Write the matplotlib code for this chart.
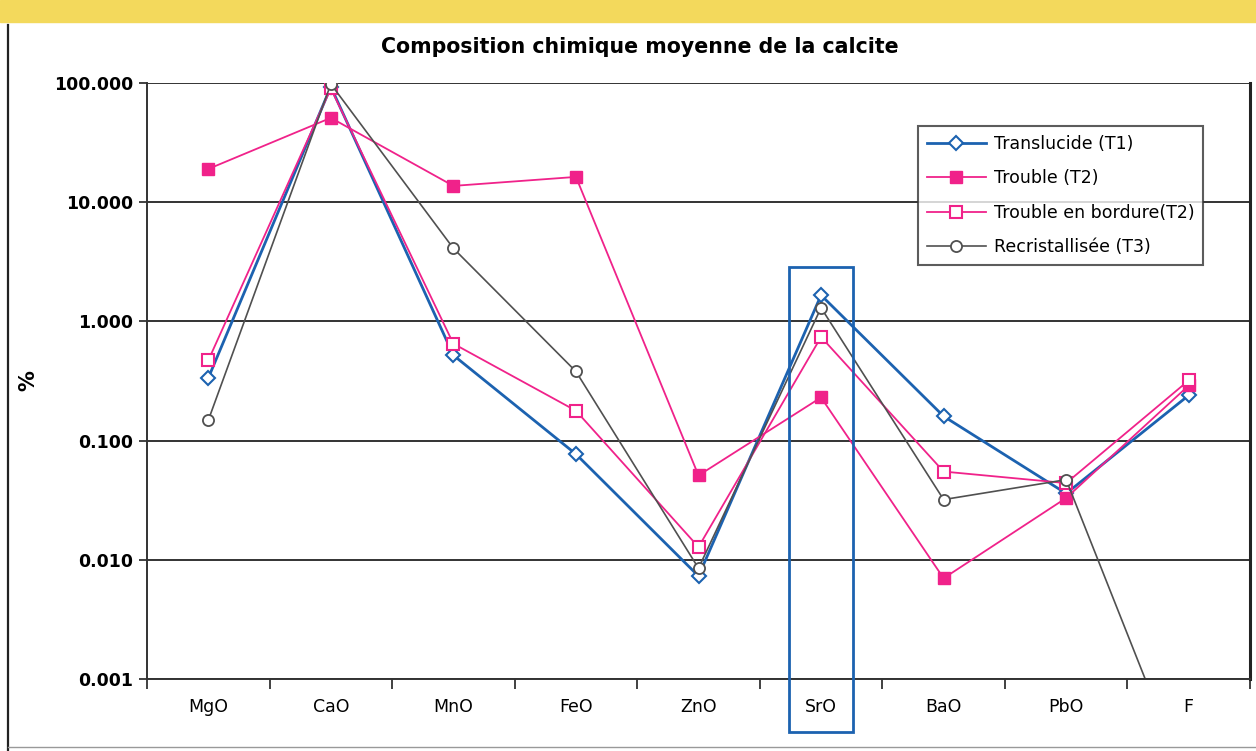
import matplotlib
matplotlib.use("Agg")
import matplotlib.pyplot as plt
from matplotlib.patches import Rectangle
from matplotlib.lines import Line2D
import numpy as np

categories = ["MgO", "CaO", "MnO", "FeO", "ZnO", "SrO", "BaO", "PbO", "F"]
translucide_t1 = [0.335, 93.0, 0.52, 0.077, 0.0073, 1.66, 0.16, 0.036, 0.24]
trouble_t2 = [19.0, 51.0, 13.7, 16.3, 0.051, 0.23, 0.0070, 0.033, 0.29]
bordure_t2 = [0.47, 90.0, 0.65, 0.178, 0.0128, 0.74, 0.055, 0.044, 0.32]
recrist_t3 = [0.148, 98.0, 4.1, 0.38, 0.0085, 1.3, 0.032, 0.047, 0.00012]
ytick_vals = [0.001, 0.01, 0.1, 1, 10, 100]
ytick_labels = ["0.001", "0.010", "0.100", "1.000", "10.000", "100.000"]

plt.rcParams['font.family'] = ['DejaVu Sans']

fig = plt.figure(figsize=(12.56, 7.51), dpi=100)
fig.patch.set_facecolor("white")
ax = fig.add_axes([147/1256, 1-679/751, (1250-147)/1256, (679-83)/751])

x = np.arange(len(categories))
BLUE = "#1c62b0"
PINK = "#f0228a"
GREY = "#505050"

ax.plot(x, translucide_t1, color=BLUE, lw=2.0, marker="D", ms=7, mfc="white",
        mec=BLUE, mew=1.5, label="Translucide (T1)")
ax.plot(x, trouble_t2, color=PINK, lw=1.3, marker="s", ms=9, mfc=PINK,
        mec=PINK, label="Trouble (T2)")
ax.plot(x, bordure_t2, color=PINK, lw=1.3, marker="s", ms=9, mfc="white",
        mec=PINK, mew=1.5, label="Trouble en bordure(T2)")
ax.plot(x, recrist_t3, color=GREY, lw=1.2, marker="o", ms=8, mfc="white",
        mec=GREY, mew=1.3, label="Recristallisée (T3)")

ax.set_yscale("log")
ax.set_ylim(0.001, 100)
ax.set_xlim(-0.5, len(categories) - 0.5)
ax.set_yticks(ytick_vals)
ax.set_yticklabels(ytick_labels, fontsize=12.5, fontweight="bold")
ax.yaxis.set_minor_locator(matplotlib.ticker.NullLocator())
ax.grid(axis="y", which="major", color="#333333", lw=1.4)
ax.set_axisbelow(True)

ax.set_xticks(x)
ax.set_xticklabels(categories, fontsize=12.5)
ax.set_xticks(np.arange(len(categories) + 1) - 0.5, minor=True)
ax.tick_params(axis="x", which="major", length=0, pad=14)
ax.tick_params(axis="x", which="minor", length=7, width=1.3, direction="out", color="#333333")
ax.tick_params(axis="y", which="major", length=6, width=1.3, color="#333333", pad=4)

for s in ["left", "bottom"]:
    ax.spines[s].set_color("#333333")
    ax.spines[s].set_linewidth(1.4)
ax.spines["right"].set_color("#222222")
ax.spines["right"].set_linewidth(2.2)
ax.spines["top"].set_visible(False)

ax.set_ylabel("%", fontsize=15, fontweight="bold")
ax.yaxis.set_label_coords((38-147)/1103, 0.5)

fig.text(640/1256, 1-47/751, "Composition chimique moyenne de la calcite",
         ha="center", va="center", fontsize=14.8, fontweight="bold")

leg = ax.legend(loc="upper left", bbox_to_anchor=((918-147)/1103, (679-126)/596),
                fontsize=12.5, frameon=True, fancybox=False, borderpad=0.5,
                borderaxespad=0, handlelength=3.4, handletextpad=0.45,
                labelspacing=0.95)
leg.get_frame().set_edgecolor("#333333")
leg.get_frame().set_linewidth(1.5)

# blue highlight box around SrO
sr = categories.index("SrO")
ax.add_patch(Rectangle((sr - 0.26, 0.00036), 0.52, 2.86 - 0.00036, fill=False,
                       ec=BLUE, lw=2.0, clip_on=False, zorder=5))

# scan frame decorations
fig.add_artist(Rectangle((0, 1-22/751), 1, 22/751, transform=fig.transFigure,
                         color="#f3d95c", zorder=0))
fig.add_artist(Line2D([8/1256, 8/1256], [0, 1-25/751], transform=fig.transFigure,
                      color="#222222", lw=1.6))
fig.add_artist(Line2D([8/1256, 1], [4/751, 4/751], transform=fig.transFigure,
                      color="#999999", lw=1.0))

fig.savefig("out.png", dpi=100)
